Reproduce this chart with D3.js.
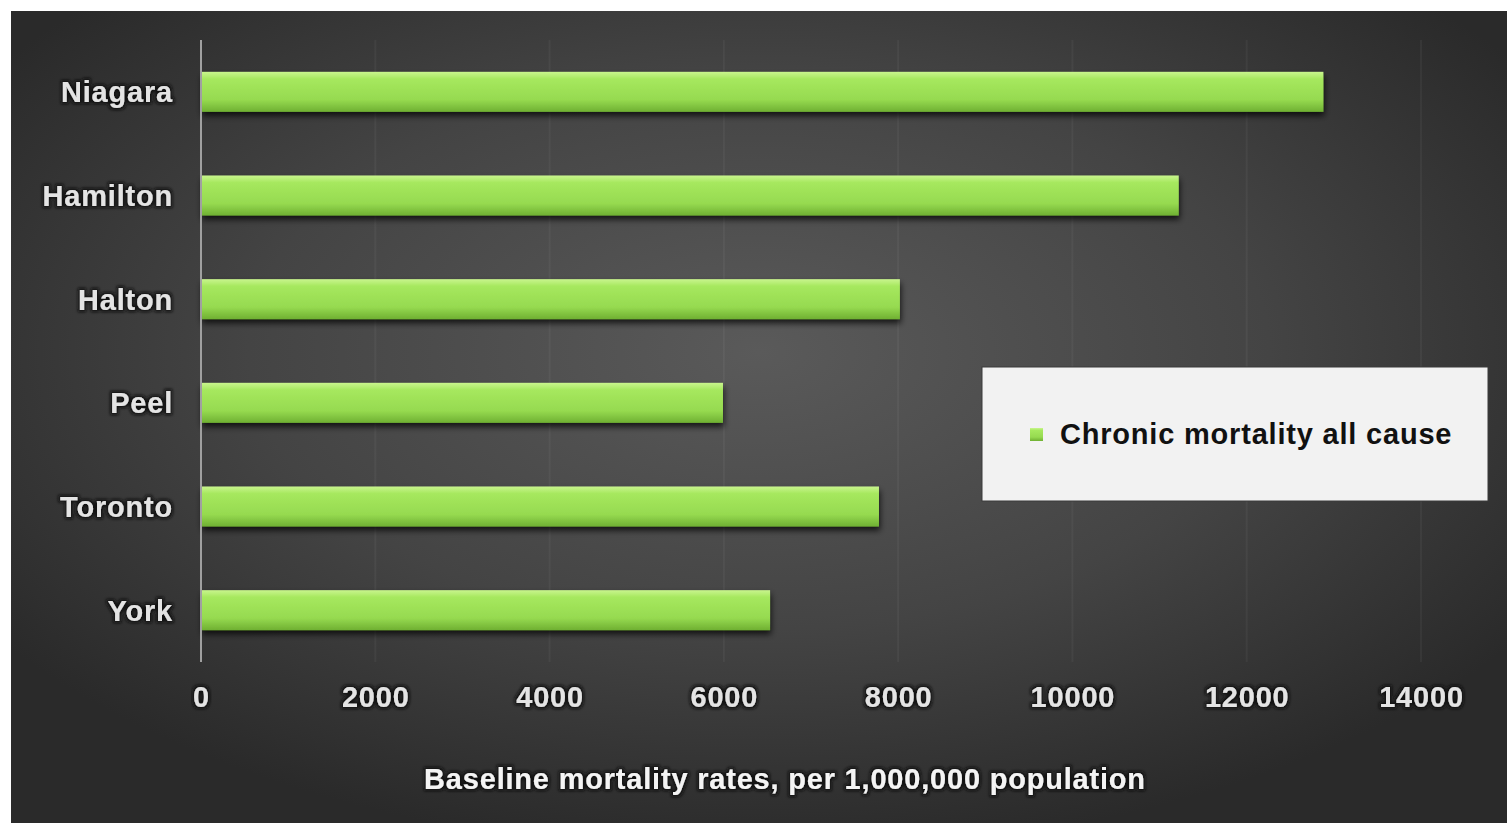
<!DOCTYPE html>
<html>
<head>
<meta charset="utf-8">
<script src="https://cdn.jsdelivr.net/npm/d3@7"></script>
<style>
  html, body { margin: 0; padding: 0; background: #ffffff; }
  svg { display: block; }
  text { font-family: "Liberation Sans", Arial, sans-serif; font-weight: bold; }
</style>
</head>
<body>
<svg id="chart" width="1507" height="823"></svg>
<script>
const categories = ["Niagara", "Hamilton", "Halton", "Peel", "Toronto", "York"];
const values = [12880, 11220, 8020, 5990, 7780, 6530];
const tickValues = [0, 2000, 4000, 6000, 8000, 10000, 12000, 14000];
const seriesName = "Chronic mortality all cause";
const axisTitle = "Baseline mortality rates, per 1,000,000 population";

const W = 1507, H = 823;
const svg = d3.select("#chart");
const defs = svg.append("defs");

// background gradient
const rg = defs.append("radialGradient").attr("id", "bg")
  .attr("cx", "0.5").attr("cy", "0.42").attr("r", "0.62")
  .attr("fx", "0.5").attr("fy", "0.42");
rg.append("stop").attr("offset", "0%").attr("stop-color", "#5a5a5a");
rg.append("stop").attr("offset", "55%").attr("stop-color", "#444444");
rg.append("stop").attr("offset", "100%").attr("stop-color", "#2a2a2a");

// bar gradient
const bg = defs.append("linearGradient").attr("id", "barGrad")
  .attr("x1", 0).attr("y1", 0).attr("x2", 0).attr("y2", 1);
bg.append("stop").attr("offset", "0%").attr("stop-color", "#c9f58e");
bg.append("stop").attr("offset", "18%").attr("stop-color", "#a6e85e");
bg.append("stop").attr("offset", "70%").attr("stop-color", "#96da50");
bg.append("stop").attr("offset", "100%").attr("stop-color", "#6fb032");

// shadows
const sh = defs.append("filter").attr("id", "barShadow")
  .attr("x", "-5%").attr("y", "-40%").attr("width", "110%").attr("height", "200%");
sh.append("feDropShadow").attr("dx", 1).attr("dy", 4).attr("stdDeviation", 3)
  .attr("flood-color", "#000").attr("flood-opacity", 0.75);

const glow = defs.append("filter").attr("id", "glow")
  .attr("x", "-10%").attr("y", "-30%").attr("width", "120%").attr("height", "160%");
glow.append("feMorphology").attr("in", "SourceAlpha").attr("operator", "dilate").attr("radius", 1.5).attr("result", "d");
glow.append("feGaussianBlur").attr("in", "d").attr("stdDeviation", 1.5).attr("result", "b");
glow.append("feFlood").attr("flood-color", "#111").attr("flood-opacity", 0.9);
glow.append("feComposite").attr("in2", "b").attr("operator", "in").attr("result", "s");
const gm = glow.append("feMerge");
gm.append("feMergeNode").attr("in", "s");
gm.append("feMergeNode").attr("in", "SourceGraphic");

// white frame + dark panel
svg.append("rect").attr("x", 0).attr("y", 0).attr("width", W).attr("height", H).attr("fill", "#ffffff");
svg.append("rect").attr("x", 11).attr("y", 11).attr("width", W - 11).attr("height", H - 11).attr("fill", "url(#bg)");

const x = d3.scaleLinear().domain([0, 14000]).range([201, 1421]);
const y = d3.scaleBand().domain(categories).range([40, 662])
  .paddingInner(0.614).paddingOuter(0.307);

// gridlines
svg.append("g").selectAll("line").data(tickValues.slice(1)).join("line")
  .attr("x1", d => x(d)).attr("x2", d => x(d))
  .attr("y1", 40).attr("y2", 662)
  .attr("stroke", "#ffffff").attr("stroke-opacity", 0.045).attr("stroke-width", 2);

// bars
svg.append("g").selectAll("rect").data(values).join("rect")
  .attr("x", x(0))
  .attr("y", (d, i) => y(categories[i]))
  .attr("width", d => x(d) - x(0))
  .attr("height", y.bandwidth())
  .attr("fill", "url(#barGrad)")
  .attr("filter", "url(#barShadow)");

// y axis line
svg.append("line").attr("x1", x(0)).attr("x2", x(0)).attr("y1", 40).attr("y2", 662)
  .attr("stroke", "#a0a0a0").attr("stroke-width", 2);

// category labels
svg.append("g").selectAll("text").data(categories).join("text")
  .attr("x", 173)
  .attr("y", d => y(d) + y.bandwidth() / 2)
  .attr("dy", "0.36em")
  .attr("text-anchor", "end")
  .attr("font-size", 29)
  .attr("letter-spacing", 0.8)
  .attr("fill", "#e4e4e4")
  .attr("filter", "url(#glow)")
  .text(d => d);

// x axis tick labels
const xAxis = d3.axisBottom(x).tickValues(tickValues).tickSize(0).tickPadding(0)
  .tickFormat(d3.format("d"));
const gx = svg.append("g").attr("transform", "translate(0,697)").call(xAxis);
gx.select(".domain").remove();
gx.selectAll("text")
  .attr("y", 0).attr("dy", "0.36em")
  .attr("font-size", 29)
  .attr("letter-spacing", 0.8)
  .attr("font-family", "Liberation Sans, Arial, sans-serif")
  .attr("font-weight", "bold")
  .attr("fill", "#e4e4e4")
  .attr("filter", "url(#glow)");

// axis title
svg.append("text")
  .attr("x", 785).attr("y", 779).attr("dy", "0.36em")
  .attr("text-anchor", "middle")
  .attr("font-size", 29)
  .attr("letter-spacing", 0.8)
  .attr("fill", "#f4f4f4")
  .attr("filter", "url(#glow)")
  .text(axisTitle);

// legend
const lg = svg.append("g");
lg.append("rect").attr("x", 982).attr("y", 367).attr("width", 506).attr("height", 134)
  .attr("fill", "#f2f2f2").attr("stroke", "#3a3a3a").attr("stroke-width", 1);
lg.append("rect").attr("x", 1030).attr("y", 428).attr("width", 13).attr("height", 13)
  .attr("fill", "url(#barGrad)");
lg.append("text").attr("x", 1060).attr("y", 434).attr("dy", "0.36em")
  .attr("font-size", 29).attr("fill", "#111")
  .attr("letter-spacing", 0.8)
  .text(seriesName);
</script>
</body>
</html>
